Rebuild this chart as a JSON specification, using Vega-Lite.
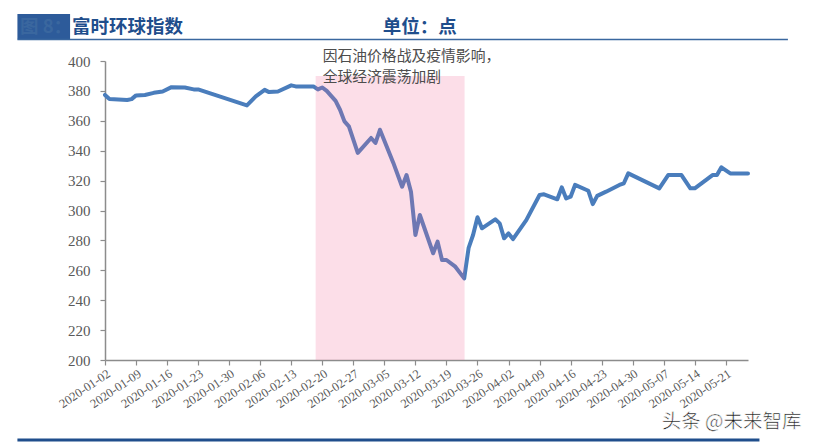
{
  "$schema": "https://vega.github.io/schema/vega-lite/v6.json",
  "autosize": {"type": "none"},
  "width": 643,
  "height": 299,
  "padding": {"left": 105, "top": 61, "right": 73, "bottom": 83},
  "background": "white",
  "config": {"view": {"stroke": null}},
  "datasets": {
    "series": [
      {"date": "2020-01-02", "value": 377.3},
      {"date": "2020-01-03", "value": 374.6},
      {"date": "2020-01-07", "value": 373.9},
      {"date": "2020-01-08", "value": 374.5},
      {"date": "2020-01-09", "value": 377.0},
      {"date": "2020-01-11", "value": 377.3},
      {"date": "2020-01-13", "value": 378.7},
      {"date": "2020-01-15", "value": 379.6},
      {"date": "2020-01-17", "value": 382.5},
      {"date": "2020-01-20", "value": 382.3},
      {"date": "2020-01-22", "value": 381.0},
      {"date": "2020-01-23", "value": 381.0},
      {"date": "2020-02-03", "value": 370.3},
      {"date": "2020-02-05", "value": 376.3},
      {"date": "2020-02-07", "value": 380.7},
      {"date": "2020-02-08", "value": 379.2},
      {"date": "2020-02-10", "value": 379.6},
      {"date": "2020-02-13", "value": 383.7},
      {"date": "2020-02-14", "value": 383.0},
      {"date": "2020-02-18", "value": 383.0},
      {"date": "2020-02-19", "value": 381.0},
      {"date": "2020-02-20", "value": 382.3},
      {"date": "2020-02-21", "value": 380.0},
      {"date": "2020-02-23", "value": 373.3},
      {"date": "2020-02-24", "value": 367.4},
      {"date": "2020-02-25", "value": 359.6},
      {"date": "2020-02-26", "value": 356.3},
      {"date": "2020-02-28", "value": 338.5},
      {"date": "2020-03-02", "value": 348.5},
      {"date": "2020-03-03", "value": 345.2},
      {"date": "2020-03-04", "value": 354.0},
      {"date": "2020-03-07", "value": 332.0},
      {"date": "2020-03-09", "value": 315.9},
      {"date": "2020-03-10", "value": 323.7},
      {"date": "2020-03-11", "value": 312.6},
      {"date": "2020-03-12", "value": 283.6},
      {"date": "2020-03-13", "value": 297.0},
      {"date": "2020-03-16", "value": 271.4},
      {"date": "2020-03-17", "value": 279.2},
      {"date": "2020-03-18", "value": 266.9},
      {"date": "2020-03-19", "value": 266.9},
      {"date": "2020-03-21", "value": 262.4},
      {"date": "2020-03-23", "value": 254.6},
      {"date": "2020-03-24", "value": 275.0},
      {"date": "2020-03-25", "value": 283.6},
      {"date": "2020-03-26", "value": 295.5},
      {"date": "2020-03-27", "value": 288.1},
      {"date": "2020-03-30", "value": 294.1},
      {"date": "2020-03-31", "value": 291.4},
      {"date": "2020-04-01", "value": 281.4},
      {"date": "2020-04-02", "value": 284.7},
      {"date": "2020-04-03", "value": 280.9},
      {"date": "2020-04-06", "value": 293.6},
      {"date": "2020-04-09", "value": 310.4},
      {"date": "2020-04-10", "value": 310.8},
      {"date": "2020-04-13", "value": 307.5},
      {"date": "2020-04-14", "value": 315.5},
      {"date": "2020-04-15", "value": 308.1},
      {"date": "2020-04-16", "value": 309.2},
      {"date": "2020-04-17", "value": 317.1},
      {"date": "2020-04-20", "value": 313.2},
      {"date": "2020-04-21", "value": 304.3},
      {"date": "2020-04-22", "value": 309.8},
      {"date": "2020-04-24", "value": 312.6},
      {"date": "2020-04-27", "value": 317.1},
      {"date": "2020-04-28", "value": 318.2},
      {"date": "2020-04-29", "value": 324.8},
      {"date": "2020-05-06", "value": 314.8},
      {"date": "2020-05-08", "value": 323.7},
      {"date": "2020-05-11", "value": 323.7},
      {"date": "2020-05-13", "value": 314.8},
      {"date": "2020-05-14", "value": 314.8},
      {"date": "2020-05-18", "value": 323.7},
      {"date": "2020-05-19", "value": 323.7},
      {"date": "2020-05-20", "value": 328.9},
      {"date": "2020-05-22", "value": 324.8},
      {"date": "2020-05-26", "value": 324.8}
    ],
    "band": [
      {"date": "2020-02-18T12:00:00Z", "date2": "2020-03-23T02:00:00Z", "value": 390, "value2": 200}
    ],
    "notes": [
      {"date": "2020-02-20T02:00:00Z", "value": 402.5, "label": "因石油价格战及疫情影响，"},
      {"date": "2020-02-20T02:00:00Z", "value": 388.4, "label": "全球经济震荡加剧"}
    ],
    "headbox": [
      {"date": "2019-12-13T06:00:00Z", "date2": "2019-12-25T03:00:00Z", "value": 431.4, "value2": 414.5}
    ],
    "headtext": [
      {"date": "2019-12-13T20:00:00Z", "value": 422.7, "label": "图 8：", "kind": "box"},
      {"date": "2019-12-25T13:00:00Z", "value": 422.7, "label": "富时环球指数", "kind": "title"},
      {"date": "2020-03-04T15:00:00Z", "value": 422.7, "label": "单位：点", "kind": "title"}
    ],
    "rules": [
      {"date": "2019-12-13T06:00:00Z", "date2": "2020-06-04T00:00:00Z", "value": 414.4, "kind": "top"},
      {"date": "2019-12-13T06:00:00Z", "date2": "2020-05-28T14:00:00Z", "value": 146.5, "kind": "bottom"}
    ],
    "mark": [
      {"date": "2020-05-22T07:00:00Z", "value": 158.7, "label": "头条 @未来智库"}
    ]
  },
  "encoding": {
    "x": {
      "field": "date", "type": "temporal", "title": null,
      "scale": {"type": "utc", "domain": [1577923200000, 1590451200000], "nice": false},
      "axis": {
        "title": null,
        "values": [1577923200000, 1578528000000, 1579132800000, 1579737600000, 1580342400000, 1580947200000, 1581552000000, 1582156800000, 1582761600000, 1583366400000, 1583971200000, 1584576000000, 1585180800000, 1585785600000, 1586390400000, 1586995200000, 1587600000000, 1588204800000, 1588809600000, 1589414400000, 1590019200000],
        "format": "%Y-%m-%d",
        "labelAngle": -34,
        "labelAlign": "right",
        "labelBaseline": "top",
        "labelFont": "Liberation Serif",
        "labelFontSize": 12.5,
        "labelColor": "#595959",
        "labelPadding": 2,
        "labelOverlap": false,
        "labelFlush": false,
        "grid": false,
        "domainColor": "#8C8C8C",
        "domainWidth": 1.5,
        "tickColor": "#8C8C8C",
        "tickWidth": 1.2,
        "tickSize": 5
      }
    },
    "y": {
      "field": "value", "type": "quantitative", "title": null,
      "scale": {"domain": [200, 400], "nice": false, "zero": false},
      "axis": {
        "title": null,
        "values": [200, 220, 240, 260, 280, 300, 320, 340, 360, 380, 400],
        "labelFont": "Liberation Serif",
        "labelFontSize": 15,
        "labelColor": "#595959",
        "labelPadding": 10,
        "labelOverlap": false,
        "grid": false,
        "domainColor": "#8C8C8C",
        "domainWidth": 1.5,
        "tickColor": "#8C8C8C",
        "tickWidth": 1.2,
        "tickSize": 5
      }
    }
  },
  "layer": [
    {
      "data": {"name": "series"},
      "mark": {"type": "line", "color": "#4A7DBC", "strokeWidth": 4, "strokeCap": "round", "strokeJoin": "round"}
    },
    {
      "data": {"name": "band"},
      "mark": {"type": "rect", "color": "#F06A98", "opacity": 0.22},
      "encoding": {
        "x2": {"field": "date2"},
        "y2": {"field": "value2"}
      }
    },
    {
      "data": {"name": "notes"},
      "mark": {"type": "text", "align": "left", "baseline": "middle", "font": "Noto Sans CJK SC", "fontSize": 14.8, "color": "#4D4D4D"},
      "encoding": {
        "text": {"field": "label"}
      }
    },
    {
      "data": {"name": "headbox"},
      "mark": {"type": "rect", "color": "#2D5B9A"},
      "encoding": {
        "x2": {"field": "date2"},
        "y2": {"field": "value2"}
      }
    },
    {
      "data": {"name": "rules"},
      "mark": {"type": "rule"},
      "encoding": {
        "x2": {"field": "date2"},
        "color": {"field": "kind", "type": "nominal", "scale": {"domain": ["top", "bottom"], "range": ["#3A679F", "#1F4E8C"]}, "legend": null},
        "strokeWidth": {"field": "kind", "type": "nominal", "scale": {"domain": ["top", "bottom"], "range": [1.5, 3]}, "legend": null}
      }
    },
    {
      "data": {"name": "headtext"},
      "mark": {"type": "text", "align": "left", "baseline": "middle", "font": "Noto Sans CJK SC", "fontSize": 18.5, "fontWeight": "bold"},
      "encoding": {
        "text": {"field": "label"},
        "color": {"field": "kind", "type": "nominal", "scale": {"domain": ["box", "title"], "range": ["#FFFFFF", "#1B3A73"]}, "legend": null}
      }
    },
    {
      "data": {"name": "mark"},
      "mark": {"type": "text", "align": "center", "baseline": "middle", "font": "Noto Sans CJK SC", "fontSize": 19.5, "color": "#1A1A1A", "stroke": "white", "strokeWidth": 0.6},
      "encoding": {
        "text": {"field": "label"}
      }
    }
  ]
}
